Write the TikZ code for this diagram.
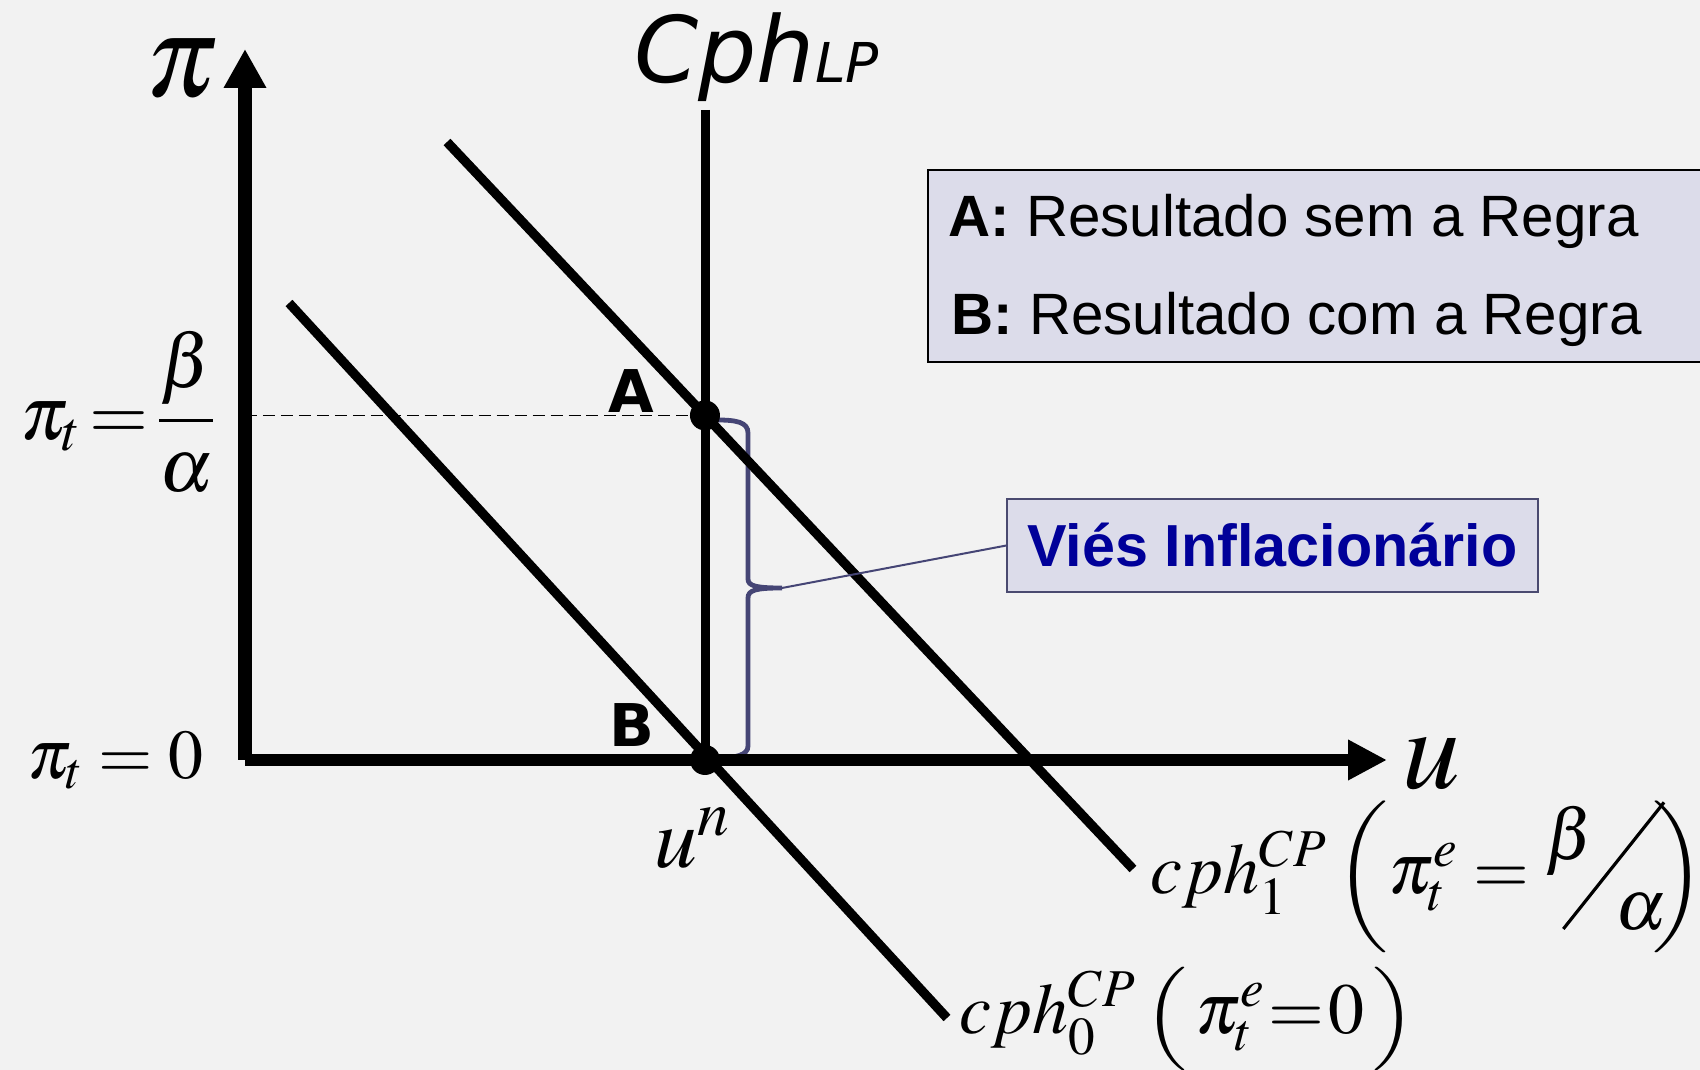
\documentclass[tikz,border=0pt]{standalone}
\usepackage{mathptmx}
\usepackage{graphicx}
\usepackage[no-math]{fontspec}
\usetikzlibrary{arrows.meta}
\newfontfamily\arialfont{Liberation Sans}
\newfontfamily\dejafont{DejaVu Sans}
\definecolor{bgcol}{HTML}{F2F2F2}
\definecolor{boxfill}{HTML}{DCDCEA}
\definecolor{boxline}{HTML}{4A4A70}
\definecolor{bracecol}{HTML}{454575}
\definecolor{viescol}{HTML}{000099}
\newcommand{\msize}[1]{\fontsize{#1}{#1}\selectfont}
\newcommand{\slashbar}{\raisebox{-18.5pt}{\rotatebox{51.5}{\rule{81pt}{1.6pt}}}}
\newcommand{\lowparen}[2]{\scalebox{1}[#1]{$#2$}}

\begin{document}
\begin{tikzpicture}[scale=0.176,
		curve/.style={black, line width=4.7pt},
		ptlabel/.style={font=\dejafont\bfseries\msize{29.5}},
		legendtext/.style={anchor=base west, font=\arialfont\msize{29.2}},
		viesbox/.style={draw=boxline, fill=boxfill, line width=1pt, minimum width=265.5pt, minimum height=46.5pt, font=\arialfont\bfseries\msize{29.7}, text=viescol}]
		\tikzstyle{every node}+=[inner sep=0pt]
		\useasboundingbox (0,0) rectangle (170,-107);
		\clip (0,0) rectangle (170,-107);
		\fill [bgcol] (0,0) rectangle (170,-107);
		\coordinate (O) at (24.5,-76);
		\coordinate (ytop) at (24.5,-4.9);
		\coordinate (xend) at (138.7,-76);
		\coordinate (lptop) at (70.5,-11);
		\coordinate (B) at (70.5,-76);
		\coordinate (c1s) at (44.7,-14.2);
		\coordinate (c1e) at (113.3,-86.9);
		\coordinate (c0s) at (28.9,-30.3);
		\coordinate (c0e) at (94.7,-101.8);
		\coordinate (A) at (intersection of c1s--c1e and lptop--B);
		\coordinate (bracetip) at (78.2,-58.8);
		\draw [black, line width=0.8pt, dash pattern=on 6pt off 3pt] (O |- A) -- (A);
		\draw [bracecol, line width=2.4pt] (71.7,-42.0) .. controls (73.6,-42.0) and (74.8,-42.2) .. (74.8,-43.3) -- (74.8,-57.9) .. controls (74.8,-58.6) and (75.6,-58.8) .. (bracetip) .. controls (75.6,-58.8) and (74.8,-59.0) .. (74.8,-59.8) -- (74.8,-74.6) .. controls (74.8,-75.5) and (73.6,-75.8) .. (71.7,-75.8);
		\draw [curve] (c1s) -- (c1e);
		\draw [curve] (c0s) -- (c0e);
		\draw [black, line width=4.5pt] (lptop) -- (B);
		\draw [black, line width=7pt, -{Triangle[length=19.5pt,width=20pt]}] (O) -- (ytop);
		\draw [black, line width=6pt, -{Triangle[length=19.5pt,width=19pt]}] (O) -- (xend);
		\fill [black] (A) circle (1.5);
		\fill [black] (B) circle (1.5);
		\node (pitop) at (18.2,-6.85) {\msize{58}$\pi$};
		\node [anchor=base west] (lplabel) at (63.4,-8.3) {\dejafont\itshape\msize{46}Cph\msize{27.5}LP};
		\node [anchor=east] (pibeta) at (21.6,-41.2) {\msize{38}$\displaystyle\pi_t\!=\!\frac{\beta}{\alpha}$};
		\node [anchor=base east] (pizero) at (20.4,-77.8) {\msize{35}$\pi_t=0$};
		\node [ptlabel, anchor=base] (Alabel) at (63.15,-41.3) {A};
		\node [ptlabel, anchor=base] (Blabel) at (63.15,-74.7) {B};
		\node [anchor=base west] (unat) at (65.4,-86.7) {\msize{43}$u^n$};
		\node [anchor=base west] (ulabel) at (140.2,-78.8) {\msize{58}$u$};
		\node [anchor=base west] (cphone) at (115,-89.3) {\msize{36}$cph_1^{CP}\,\lowparen{0.88}{\biggl(}\pi_t^e=\raisebox{17pt}{$\beta$}\kern-16pt\slashbar\kern-25pt\raisebox{-18.5pt}{$\alpha$}\kern-7pt\lowparen{0.88}{\biggr)}$};
		\node [anchor=base west] (cphzero) at (95.9,-103.3) {\msize{36}$cph_0^{CP}\,\lowparen{0.8}{\Bigl(}\,\pi_t^e\mskip-3mu=\mskip-3mu0\,\lowparen{0.8}{\Bigr)}$};
		\node [draw=black, fill=boxfill, line width=1pt, anchor=north west, minimum width=396pt, minimum height=96pt] (legend) at (92.7,-16.9) {};
		\node [legendtext] (legA) at (94.8,-23.7) {\textbf{A:} Resultado sem a Regra};
		\node [legendtext] (legB) at (95.1,-33.5) {\textbf{B:} Resultado com a Regra};
		\node [viesbox] (vies) at (127.25,-54.55) {Viés Inflacionário};
		\draw [bracecol, line width=1pt] (bracetip) -- (vies.west);
	\end{tikzpicture}
\end{document}
